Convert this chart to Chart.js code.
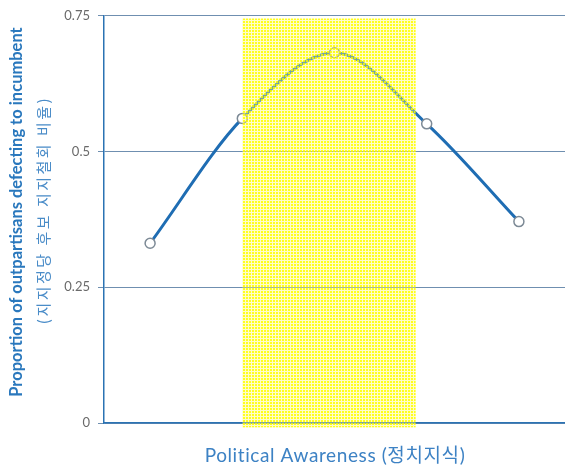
<!DOCTYPE html>
<html><head><meta charset="utf-8">
<script src="https://cdn.jsdelivr.net/npm/chart.js@4.4.1/dist/chart.umd.min.js"></script>
<style>html,body{margin:0;padding:0;background:#fff}#wrap{width:565px;height:468px}</style>
</head><body><div id="wrap"><canvas id="c" width="565" height="468"></canvas></div>
<script>
const categories = ["1","2","3","4","5"];
const defectionRate = [0.331, 0.561, 0.682, 0.551, 0.371];
const yTicks = [0, 0.25, 0.5, 0.75];
const highlightX = [1, 2.88];
const highlightY = [-0.008, 0.745];
const yTitle = "Proportion of outpartisans defecting to incumbent";
const yTitleKo = "(지지정당 후보 지지철회 비율)";
const xTitle = "Political Awareness (정치지식)";

function makePattern(ctx){
  const p = document.createElement('canvas'); p.width=3; p.height=3;
  const g = p.getContext('2d');
  g.fillStyle='rgba(255,250,120,0.4)'; g.fillRect(0,0,3,3);
  g.clearRect(0,0,2,2);
  g.fillStyle='rgba(255,255,0,0.88)'; g.fillRect(0,0,2,2);
  return ctx.createPattern(p,'repeat');
}

const boxPlugin = {
  id:'box',
  afterDatasetsDraw(chart){
    const {ctx, scales:{x,y}} = chart;
    const x0 = x.getPixelForValue(highlightX[0]), x1 = x.getPixelForValue(highlightX[1]);
    const y0 = y.getPixelForValue(highlightY[1]), y1 = y.getPixelForValue(highlightY[0]);
    ctx.save();
    ctx.fillStyle = makePattern(ctx);
    ctx.fillRect(x0,y0,x1-x0,y1-y0);
    ctx.restore();
  },
  afterDraw(chart){
    const {ctx} = chart;
    ctx.save();
    ctx.translate(17, 212); ctx.rotate(-Math.PI/2);
    ctx.textAlign='center'; ctx.textBaseline='middle';
    ctx.fillStyle='#2a78bd';
    ctx.font='bold 16.5px Lato, "Noto Sans CJK KR", sans-serif';
    ctx.fillText(yTitle,0,0);
    ctx.restore();
    ctx.save();
    ctx.translate(43, 210); ctx.rotate(-Math.PI/2);
    ctx.textAlign='center'; ctx.textBaseline='middle';
    ctx.fillStyle='#4a8cc8';
    ctx.letterSpacing='2.5px';
    ctx.font='15px "Noto Sans CJK KR", sans-serif';
    ctx.fillText(yTitleKo,0,0);
    ctx.restore();
    ctx.save();
    ctx.textAlign='center'; ctx.textBaseline='middle';
    ctx.fillStyle='#3d82c4';
    ctx.letterSpacing='0.6px';
    ctx.font='19px Lato, "Noto Sans CJK KR", sans-serif';
    ctx.fillText(xTitle,335, 456);
    ctx.restore();
  }
};

new Chart(document.getElementById('c'), {
  type:'line',
  data:{labels:categories, datasets:[{
    data:defectionRate,
    borderColor:'#1f6db3', borderWidth:3,
    cubicInterpolationMode:'monotone',
    pointRadius:5, pointBackgroundColor:'#ffffff', pointBorderColor:'#7d8a96', pointBorderWidth:1.5
  }]},
  options:{
    responsive:false, animation:false,
    plugins:{legend:{display:false}, tooltip:{enabled:false}},
    layout:{autoPadding:false, padding:{top:15,right:0,bottom:0,left:0}},
    scales:{
      x:{ offset:true, ticks:{display:false},
          grid:{display:false, drawTicks:false},
          border:{display:true, color:'#2b73b3', width:1.5},
          afterFit(s){ s.height = 45; } },
      y:{ min:0, max:0.75, afterBuildTicks(s){ s.ticks = yTicks.map(v=>({value:v})); },
          ticks:{color:'#6a6a6a', font:{family:'Lato', size:13}, padding:8, callback:(v)=>String(v)},
          grid:{color:'#6f8fb0', lineWidth:1, tickLength:6, drawOnChartArea:true},
          border:{display:true, color:'#2b73b3', width:1.5},
          afterFit(s){ s.width = 104; } }
    }
  },
  plugins:[boxPlugin]
});
</script></body></html>
